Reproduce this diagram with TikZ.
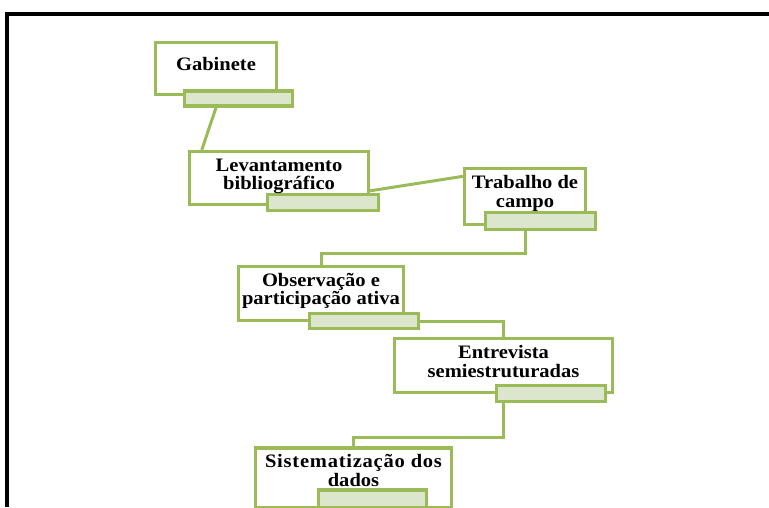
\documentclass[tikz,border=0pt]{standalone}
\usepackage{fontspec}
\setmainfont{Liberation Serif}[FakeStretch=1.08]
\usetikzlibrary{positioning}
\definecolor{verde}{HTML}{9BBB59}
\definecolor{verdeclaro}{HTML}{DCE6CC}
\tikzset{etapa/.style={draw=verde, line width=3.2pt, fill=white, inner sep=0pt},
  aba/.style={draw=verde, line width=3.2pt, fill=verdeclaro, inner sep=0pt},
  texto/.style={align=center, inner sep=0pt, font=\bfseries\fontsize{19}{18.5}\selectfont},
  liga/.style={draw=verde, line width=3pt}}

\begin{document}
\begin{tikzpicture}[x=1pt, y=-1pt]

\useasboundingbox (0,0) rectangle (769,507);
\draw [line width=3.5pt] (769,14) -- (7,14) -- (7,507);

  % nodes

  \node [etapa, minimum width=121pt, minimum height=52pt] (gab) at (216,68.5) {};
  \node [aba, minimum width=108pt, minimum height=15pt] (gababa) at (238.5,98.5) {};
  \node [texto, below=16pt of gab.north] (gabtxt) {Gabinete};

  \node [etapa, minimum width=179pt, minimum height=53pt] (lev) at (279,178) {};
  \node [aba, minimum width=111pt, minimum height=16pt] (levaba) at (323,202.5) {};
  \node [texto, below=8.5pt of lev.north] (levtxt) {Levantamento\\bibliográfico};

  \node [etapa, minimum width=121pt, minimum height=56pt] (trab) at (525,196.5) {};
  \node [aba, minimum width=110pt, minimum height=17pt] (trababa) at (540.5,221) {};
  \node [texto, below=8.5pt of trab.north] (trabtxt) {Trabalho de\\campo};

  \node [etapa, minimum width=165pt, minimum height=54pt] (obs) at (321,293.5) {};
  \node [aba, minimum width=109pt, minimum height=15pt] (obsaba) at (364,321) {};
  \node [texto, below=8pt of obs.north] (obstxt) {Observação e\\participação ativa};

  \node [etapa, minimum width=218pt, minimum height=54pt] (ent) at (503.5,365.5) {};
  \node [aba, minimum width=109pt, minimum height=16pt] (entaba) at (551,393.5) {};
  \node [texto, below=8.5pt of ent.north] (enttxt) {Entrevista\\semiestruturadas};

  \node [etapa, minimum width=196pt, minimum height=60pt] (sis) at (353.5,478) {};
  \node [aba, minimum width=108pt, minimum height=18pt] (sisaba) at (372.5,499) {};
  \node [texto, below=8pt of sis.north] (sistxt) {\addfontfeature{LetterSpace=4}Sistematização dos\\dados};

  %  edges
  \draw [liga] (gab.center |- gababa.south) to (lev.160);
  \draw [liga] (lev.-8) to (trab.162);
  \draw [liga] (trab.center |- trababa.south) -- ++(0,22) -| (obs.north);
  \draw [liga] (obsaba.east) -| (ent.north);
  \draw [liga] (ent.center |- entaba.south) -- ++(0,34) -| (sis.north);

\end{tikzpicture}
\end{document}
